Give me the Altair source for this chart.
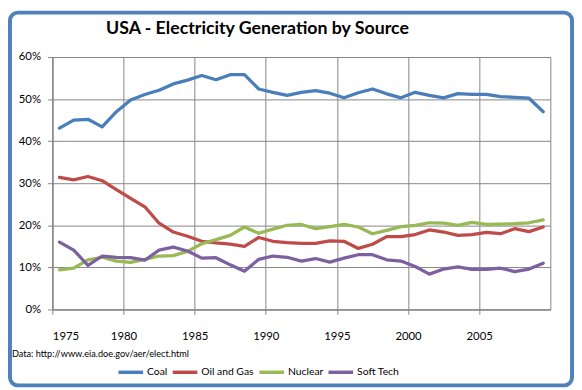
import altair as alt
import pandas as pd

years = list(range(1975, 2010))
series = ["Coal", "Oil and Gas", "Nuclear", "Soft Tech"]
colors = ["#4A7EBB", "#BE4B48", "#98B954", "#7D60A0"]

coal = [43.1, 45.0, 45.2, 43.4, 47.0, 49.8, 51.1, 52.1, 53.6, 54.5,
        55.6, 54.6, 55.8, 55.8, 52.4, 51.6, 50.9, 51.6, 52.0, 51.4,
        50.3, 51.5, 52.4, 51.25, 50.3, 51.6, 50.9, 50.3, 51.3, 51.1,
        51.1, 50.6, 50.4, 50.2, 47.0]
oil_gas = [31.4, 30.8, 31.6, 30.6, 28.5, 26.4, 24.4, 20.5, 18.4, 17.4,
           16.2, 15.8, 15.5, 15.0, 17.1, 16.2, 15.9, 15.7, 15.7, 16.3,
           16.2, 14.5, 15.5, 17.3, 17.3, 17.8, 18.9, 18.4, 17.6, 17.8,
           18.3, 18.0, 19.2, 18.5, 19.6]
nuclear = [9.4, 9.8, 11.8, 12.4, 11.5, 11.2, 11.9, 12.7, 12.8, 13.8,
           15.6, 16.6, 17.6, 19.6, 18.1, 19.1, 20.0, 20.2, 19.2, 19.7,
           20.2, 19.6, 18.0, 18.8, 19.7, 20.0, 20.6, 20.5, 20.0, 20.7,
           20.2, 20.3, 20.4, 20.6, 21.3]
soft_tech = [16.0, 14.1, 10.5, 12.7, 12.4, 12.3, 11.7, 14.1, 14.8, 13.9,
             12.2, 12.3, 10.6, 9.1, 11.9, 12.7, 12.4, 11.5, 12.1, 11.25,
             12.2, 13.0, 13.0, 11.8, 11.5, 10.2, 8.4, 9.6, 10.1, 9.5,
             9.5, 9.8, 9.0, 9.6, 11.0]

x_ticks = [1975, 1980, 1985, 1990, 1995, 2000, 2005]
y_ticks = [0, 10, 20, 30, 40, 50, 60]

title_text = "USA - Electricity Generation by Source"
source_text = "Data: http://www.eia.doe.gov/aer/elect.html"

rows = []
for name, vals in zip(series, [coal, oil_gas, nuclear, soft_tech]):
    for yr, v in zip(years, vals):
        rows.append({"series": name, "year": yr, "pos": yr + 0.5, "value": v})
df = pd.DataFrame(rows)

FONT = "Lato"

lines = alt.Chart(df).mark_line(strokeWidth=3.3, strokeJoin="round", strokeCap="round").encode(
    x=alt.X("pos:Q",
            scale=alt.Scale(domain=[1975, 2010], nice=False, zero=False),
            axis=alt.Axis(values=x_ticks, format="d", title=None, tickSize=5,
                          labelPadding=16, labelFontSize=11.5)),
    y=alt.Y("value:Q",
            scale=alt.Scale(domain=[0, 60], nice=False),
            axis=alt.Axis(values=y_ticks, labelExpr="datum.value + '%'", title=None,
                          tickSize=5, labelPadding=7, labelFontSize=11.5)),
    color=alt.Color("series:N",
                    scale=alt.Scale(domain=series, range=colors),
                    legend=alt.Legend(title=None, orient="none", direction="horizontal",
                                      legendX=65, legendY=305,
                                      symbolType="stroke", symbolSize=625,
                                      symbolStrokeWidth=3.5, labelFontSize=10.5,
                                      labelFont=FONT, labelOffset=2, columnPadding=-2,
                                      labelColor="#000000")),
    order="year:Q",
)

title = alt.Chart(pd.DataFrame({"t": [title_text]})).mark_text(
    font=FONT, fontSize=18, fontWeight="bold", color="#000000",
    align="center", baseline="middle"
).encode(text="t:N", x=alt.value(208), y=alt.value(-28))

source = alt.Chart(pd.DataFrame({"t": [source_text]})).mark_text(
    font=FONT, fontSize=9.3, color="#000000", align="left", baseline="middle"
).encode(text="t:N", x=alt.value(-41), y=alt.value(301))

border = alt.Chart(pd.DataFrame({"a": [0]})).mark_rect(
    filled=False, stroke="#4F81BD", strokeWidth=4, cornerRadius=8
).encode(x=alt.value(-43), x2=alt.value(527), y=alt.value(-45), y2=alt.value(333))

chart = alt.layer(border, lines, title, source).properties(
    width=505, height=256,
    autosize=alt.AutoSizeParams(type="none"),
    padding={"left": 45, "top": 47, "right": 24, "bottom": 79},
    background="#FFFFFF",
).configure_view(stroke="#868686", strokeWidth=1).configure_axis(
    gridColor="#868686", gridOpacity=1, domainColor="#868686", tickColor="#868686",
    labelColor="#000000", labelFont=FONT,
)

chart.save("out.html", embed_options={"renderer": "svg", "actions": False})
